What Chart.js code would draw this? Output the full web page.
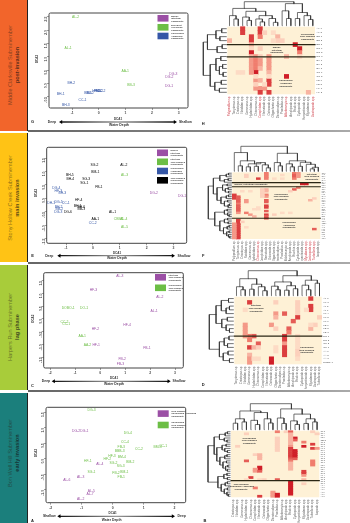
<!DOCTYPE html>
<html><head><meta charset="utf-8">
<script src="https://cdn.jsdelivr.net/npm/chart.js@4"></script>
<style>
html,body{margin:0;padding:0;background:#fff;width:350px;height:523px;overflow:hidden;font-family:"Liberation Sans",sans-serif}
canvas{position:absolute}
.bar{position:absolute;left:0;width:27px;border-right:1px solid #222;box-sizing:content-box}
.bar div{position:absolute;left:13.5px;white-space:nowrap;text-align:center;transform:translate(-50%,-50%) rotate(-90deg);font-size:5.6px;line-height:6.8px;color:rgba(40,30,20,.55)}
.bar b{font-weight:700;color:rgba(20,20,20,.72)}
.sep{position:absolute;left:28px;right:0;height:2px;background:linear-gradient(90deg,#666,#888 60%,#aaa)}
</style></head><body>
<div class="bar" style="top:0;height:131px;background:#F2652B"><div style="top:65px">Middle Clarksville Subminember<br><b>post-invasion</b></div></div>
<div class="bar" style="top:133px;height:129px;background:#FFC315"><div style="top:65px">Stony Hollow Creek Subminember<br><b>main invasion</b></div></div>
<div class="bar" style="top:265px;height:125px;background:#A8CC3A"><div style="top:62px">Harpers Run Subminember<br><b>lag phase</b></div></div>
<div class="bar" style="top:393px;height:130px;background:#1B7F7C"><div style="top:60px">Bon Well Hill Subminember<br><b>early invasion</b></div></div>
<div class="sep" style="top:130px"></div><div class="sep" style="top:262px"></div><div class="sep" style="top:390px"></div>

<canvas id="G"></canvas><canvas id="E"></canvas><canvas id="C"></canvas><canvas id="A"></canvas>
<canvas id="H"></canvas><canvas id="F"></canvas><canvas id="D"></canvas><canvas id="B"></canvas>
<script>
// ---------- ordination data ----------
const xTicksG=[-1,0,1,2,3], yTicksG=[2.5,2,1.5,1,.5,0,-.5];
const gLabels=["AL-2","AL-1","AA-1","BB-3","DG-3","DG-2","DG-1","BH-2","BH-1","BH-3","CC-1","BB-1","BB-2","HF-1","FB-1","FB-2","CC-2"];
const gX=[-.87,-1.15,.99,1.21,2.8,2.65,2.64,-1.03,-1.43,-1.24,-.61,-.4,-.33,-.1,-.05,.02,.1];
const gY=[2.5,1.34,.45,-.05,.36,.24,-.09,0,-.41,-.81,-.62,-.37,-.35,-.3,-.3,-.3,-.3];
const gGroup=[1,1,1,1,0,0,0,2,2,2,2,2,2,2,2,2,2];

const xTicksE=[-1,0,1,2,3], yTicksE=[1.5,1,.5,0,-.5,-1,-1.5];
const eLabels=["SG-2","AL-2","BM-1","AL-3","BH-5","BH-4","SG-3","SG-1","FB-1","DG-4","HF-3","BH-3","DG-2","DG-1","DH-1","DG-5","CC-1","HF-4","BH-2","BH-1","BB-2","DG-3","DG-6","BH-6","BB-3","AL-1","AA-1","CC-2","CBB-1","AL-4","AL-5"];
const eX=[.06,1.15,.09,1.18,-.86,-.84,-.25,-.32,.22,-1.36,-1.29,-1.14,2.27,3.32,-1.55,-1.28,-1.01,-.53,-1.28,-.57,-1.25,-1.29,-.93,-.43,-.43,.73,.09,-.01,.96,1.15,1.18];
const eY=[1.25,1.25,.99,.85,.87,.73,.73,.57,.43,.4,.27,.2,.2,.07,-.16,-.14,-.16,-.07,-.34,-.27,-.4,-.52,-.52,-.34,-.39,-.52,-.77,-.91,-.77,-.77,-1.07];
const eGroup=[3,3,3,1,3,3,3,3,3,2,2,2,0,0,2,2,2,3,2,3,2,2,3,3,3,3,3,2,1,1,1];

const xTicksC=[-2,-1,0,1,2,3], yTicksC=[1.5,1,.5,0,-.5,-1,-1.5];
const cLabels=["AL-3","HF-3","AL-2","AL-1","HF-4","HF-2","HF-1","FB-1","FB-2","FB-3","DOBO-1","DO-1","CC-2","CC-1","AA-1","AA-2"];
const cX=[.79,-.27,2.39,2.16,1.08,-.19,-.16,1.87,.88,.81,-1.28,-.64,-1.43,-1.36,-.72,-.51];
const cY=[1.68,1.14,.86,.32,-.26,-.38,-1.03,-1.16,-1.58,-1.79,.43,.43,-.14,-.22,-.67,-1.01];
const cGroup=[0,0,0,0,0,0,0,0,0,0,1,1,1,1,1,1];

const xTicksA=[-2,-1,0,1,2], yTicksA=[1.5,1,.5,0,-.5,-1];
const aLabels=["DG-3","DG-2","DG-1","DG-4","CC-4","FB-3","BBB-3","CC-2","BM-3","CC-1","HF-3","BM-4","HF-2","BM-2","HF-1","SG-2","SG-3","AL-4","SG-1","FB-2","BM-1","FB-1","AL-3","AL-6","AL-5","AL-7","AL-2"];
const aX=[-.68,-1.18,-.91,.49,.4,.28,.23,.85,1.45,1.63,-.02,.3,-.17,.57,-.8,.03,.26,-.41,-.68,.11,.38,.28,-1.03,-1.48,-.69,-.73,-1.03];
const aY=[1.57,.9,.9,.83,.53,.37,.25,.3,.37,.41,.09,.06,-.02,-.09,-.08,-.14,-.23,-.18,-.42,-.45,-.42,-.59,-.58,-.69,-1.05,-1.14,-1.28];
const aGroup=[1,0,0,1,1,1,1,1,1,1,1,1,1,1,1,1,1,0,1,1,1,1,0,0,0,0,0];

// ---------- heat-map data: [column,row,intensity] ----------
const hCells=[[3,0,8],[3,1,8],[7,0,8],[7,1,8],[7,2,6],[8,1,3],[10,1,2],[11,2,4],[12,3,3],[11,3,3],[10,3,2],[0,3,4],[5,2,8],[5,3,8],[5,4,4],[15,4,9],[16,5,9],[16,6,6],[5,5,2],[5,6,9],[7,5,3],[13,7,4],
[5,7,4],[6,7,5],[7,7,3],[5,8,5],[6,8,6],[7,8,5],[5,9,5],[6,9,6],[7,9,5],[5,10,5],[6,10,6],[7,10,4],[6,11,9],[5,11,5],[9,7,5],[9,8,5],[9,9,5],[9,10,5],[9,11,4],[13,12,9],[6,13,5],[7,13,4],[9,13,8],[9,14,8],[6,15,5],[7,15,5],[8,15,5],[7,16,8],[9,16,8],[18,16,4],[2,11,2],[3,11,2],[16,7,2],[6,12,2],[6,14,3],[8,14,2],[9,12,2]];
const fCells=[[3,1,3],[3,2,3],[8,0,6],[8,1,6],[8,2,6],[8,3,6],[6,3,8],[15,0,6],[15,1,7],[15,2,7],[15,3,6],[16,0,5],[16,1,5],[16,2,5],[17,6,9],[18,6,9],[0,12,8],[0,13,8],[0,14,8],[1,13,7],[1,14,7],[1,15,7],[1,16,7],[1,17,6],[1,18,7],[1,19,7],[1,20,7],[1,21,7],[1,22,5],
[1,26,8],[1,27,8],[1,28,8],[1,29,8],[1,30,8],[1,31,8],[1,32,8],[1,33,8],[1,34,8],[1,35,8],[1,36,8],[0,28,5],[0,29,5],[0,30,5],[0,31,5],[0,32,5],[0,33,5],[0,34,5],[0,35,5],[0,36,5],[2,27,3],
[8,9,4],[8,10,4],[8,12,6],[8,13,5],[8,15,7],[8,16,7],[8,18,8],[8,19,8],[8,21,7],[8,23,8],[8,24,7],[8,25,8],[3,15,5],[3,16,5],[3,22,6],[4,23,5],[5,24,4],[15,9,7],[16,8,6],[14,10,3],[19,15,4],[20,14,3],[20,31,7],[7,9,3],[7,10,3],[7,11,3],[7,12,3],[7,13,3],[10,23,3],[6,19,2],[6,20,2],[5,20,2],[10,3,2],[12,3,2],[12,1,2],[4,10,2],[2,10,2],[12,22,2],[14,22,2],[3,30,2]];
const dCells=[[3,1,8],[9,1,3],[17,0,8],[17,2,8],[17,3,8],[16,3,2],[2,3,2],[14,1,3],[14,2,3],[14,3,3],[14,4,3],[9,4,5],[11,4,7],[14,5,8],[13,6,7],[19,5,3],[9,5,4],[2,7,5],[2,8,5],[2,9,5],[8,7,5],[9,8,3],[12,8,7],[12,9,6],[17,8,4],[18,7,3],[17,7,2],[4,10,7],[3,10,6],[3,11,6],[2,10,5],[11,10,8],[11,11,8],[11,12,5],[11,13,8],[11,14,8],[11,15,8],[5,12,7],[3,13,8],[4,13,4],[5,13,3],[8,16,9],[8,17,9],[3,15,4],[3,16,5],[3,17,5],[14,10,2],[14,11,2],[14,12,2],[14,13,2],[14,14,3],[14,15,3],[14,16,2],[4,16,2],[5,16,2],[9,13,2],[9,14,2]];
const bCells=[[3,1,3],[10,0,6],[10,3,3],[10,4,3],[10,5,3],[10,6,3],[10,7,3],[10,8,3],[10,9,3],[12,0,3],[13,0,7],[14,3,9],[14,4,7],[16,5,6],[16,7,9],[18,6,8],[18,8,8],[19,8,5],[19,1,3],[18,0,3],[13,1,4],[13,2,4],[13,3,4],[13,4,4],[13,5,4],[13,6,4],[13,7,5],[13,8,8],[13,9,8],[13,10,8],[13,11,8],[13,12,8],[13,13,7],[13,14,6],[13,15,4],[13,16,4],[13,17,4],[13,18,4],[14,9,9],[14,10,9],[14,11,9],[14,12,9],[14,13,7],[1,7,3],[3,14,7],[5,11,3],[6,11,4],[6,12,4],[6,13,4],[6,17,9],[6,18,9],[5,18,5],[5,19,5],[6,19,7],[16,19,8],[16,20,8],[18,14,6],[18,15,6],[18,16,6],[4,22,8],[10,23,7],[7,23,3],[13,24,9],[13,25,9],[13,26,9],[13,27,9],[13,28,9],[13,29,9],[13,30,9],[5,27,6],[6,31,8],[9,29,5],[9,30,5],[9,31,5],[10,30,9],[10,31,9],[16,25,3],[16,23,4],[16,21,5],[3,23,2],[6,23,2]];

const hRows=["AL-1","AL-2","BB-1","BB-2","BB-3","DG-1","DG-2","DG-3","BH-1","BH-2","BH-3","CC-1","CC-2","FB-1","FB-2","HF-1","HF-2"];
const fRows=["SG-2","AL-2","BM-1","AL-3","BH-5","BH-4","DG-1","DG-2","SG-3","SG-1","FB-1","DG-4","HF-3","BH-3","BH-1","DH-1","DG-5","CC-1","HF-4","BH-2","BB-2","DG-3","DG-6","BH-6","BB-3","AL-1","AA-1","CC-2","CBB-1","AL-4","AL-5","HF-1","HF-2","BB-1","FB-2","AA-2","CC-3"];
const dRows=["AL-3","HF-3","AL-2","AL-1","HF-4","HF-2","HF-1","FB-1","FB-2","FB-3","DO-1","DO-2","CC-2","CC-1","AA-1","AA-2","AA-3","DOBO-1"];
const bRows=["DG-3","DG-4","CC-4","FB-3","BBB-3","CC-2","BM-3","CC-1","HF-3","BM-4","HF-2","BM-2","HF-1","SG-2","SG-3","SG-1","FB-2","BM-1","FB-1","SG-4","BM-5","HF-4","DG-5","CC-3","DG-2","DG-1","AL-4","AL-3","AL-6","AL-5","AL-7","AL-2"];
const taxa=["Polypedilum sp.","Tanytarsus sp.","Cricotopus sp.","Naididae spp.","Gammarus sp.","Hydrobiidae spp.","Chironomus sp.","Corophiidae spp.","Nematoda spp.","Ostracoda spp.","Oligochaeta spp.","Dicrotendipes sp.","Procladius sp.","Ablabesmyia sp.","Amphipoda spp.","Bivalvia spp.","Cyclopoida spp.","Harpacticoida spp.","Mysidacea spp.","Gastropoda spp.","Turbellaria spp.","Isopoda spp."];
const hRed=[0,7,13,19], fRed=[6,18,19,20], dRed=[], bRed=[];

// dendrograms: [height,left,right], leaves are positions
const hTop=[1,[.72,[.42,0,[.28,1,2]],[.6,[.36,3,[.22,4,5]],[.42,[.28,6,[.16,7,8]],[.3,9,[.14,10,11]]]]],[.92,[.62,12,[.3,13,14]],[.55,[.3,15,16],[.42,17,[.26,18,19]]]]];
const hLeft=[1,[.82,[.45,[.2,0,1],[.28,2,3]],[.4,[.18,4,5],6]],[.7,[.45,[.24,7,8],[.3,[.16,9,10],[.14,11,12]]],[.5,[.22,13,14],[.3,15,16]]]];
const fTop=[1,[.75,0,[.42,[.22,1,2],[.3,[.18,3,4],[.35,[.2,5,6],[.26,7,[.14,8,9]]]]]],[.72,[.35,10,[.22,11,12]],[.42,[.3,13,[.18,14,15]],[.36,[.2,16,17],[.28,18,[.16,[.1,19,20],21]]]]]];
const fLeft=[1,[.78,[.5,[.22,[.12,0,1],2],[.3,[.14,3,4],5]],[.62,[.38,[.18,6,7],[.26,[.14,8,9],[.12,10,11]]],[.45,[.22,[.12,12,13],14],[.3,[.16,15,16],[.14,[.08,17,18],19]]]]],[.72,[.3,[.18,20,21],[.16,22,[.1,23,24]]],[.5,[.3,[.16,25,26],[.14,27,28]],[.34,[.18,[.1,29,30],31],[.2,[.1,32,33],[.12,34,[.07,35,36]]]]]]];
const dTop=[1,[.68,[.36,0,[.24,1,2]],[.46,[.26,3,4],[.36,5,[.2,6,7]]]],[.8,[.55,[.38,8,[.24,9,10]],[.4,[.22,11,12],[.28,13,14]]],[.62,[.42,15,[.24,16,17]],[.5,18,19]]]];
const dLeft=[1,[.72,[.5,[.2,0,1],[.3,[.16,2,3],4]],[.48,[.25,5,6],[.3,7,[.16,8,9]]]],[.58,[.38,[.18,10,11],[.24,12,13]],[.42,[.22,14,15],[.16,16,17]]]];
const bTop=[1,[.72,[.42,[.25,0,1],[.3,2,3]],[.66,[.36,4,[.2,5,6]],[.42,7,[.26,8,9]]]],[.8,[.45,10,[.24,11,12]],[.6,[.34,13,[.2,14,15]],[.42,[.24,16,17],[.3,18,19]]]]];
const bLeft=[1,[.72,[.48,[.22,[.12,0,1],2],[.26,3,[.14,4,5]]],[.6,[.36,[.18,6,7],[.24,8,[.12,9,10]]],[.46,[.24,[.14,11,12],13],[.32,[.16,14,15],[.2,[.1,16,17],[.12,18,19]]]]]],[.55,[.28,[.14,20,21],[.12,22,23]],[.4,[.22,[.12,24,25],26],[.26,[.12,27,28],[.14,29,[.08,30,31]]]]]];

// ---------- helpers ----------
const FONT='"Liberation Sans",sans-serif';
const communityColors=['#9B4FA5','#6CBE45','#3557A7','#000000'];
const setBox=(id,l,t,w,h)=>{const c=document.getElementById(id);c.style.left=l+'px';c.style.top=t+'px';c.style.width=w+'px';c.style.height=h+'px';c.width=w;c.height=h;return c};

const annotate={id:'annotate',afterDraw(chart,a,o){const g=chart.ctx;g.save();
  (o.draw||(()=>{}))(g,chart);g.restore();}};
function txt(g,s,x,y,size,color,opt={}){g.save();g.translate(x,y);if(opt.rot)g.rotate(opt.rot);g.font=(opt.bold?'700 ':'')+size+'px '+FONT;g.fillStyle=color;g.textAlign=opt.align||'center';g.textBaseline='middle';g.fillText(s,0,0);g.restore();}
function arrow(g,x0,x1,y){const gr=g.createLinearGradient(x0,0,x1,0);gr.addColorStop(0,'#111');gr.addColorStop(.5,'#999');gr.addColorStop(1,'#111');g.strokeStyle=gr;g.lineWidth=1.3;g.beginPath();g.moveTo(x0+2,y);g.lineTo(x1-2,y);g.stroke();g.fillStyle='#000';
  [[x0,1],[x1,-1]].forEach(([x,d])=>{g.beginPath();g.moveTo(x,y);g.lineTo(x+3.2*d,y-2);g.lineTo(x+3.2*d,y+2);g.closePath();g.fill();});}

function scatter(id,p){
  const L=28,W=172,T=p.top,H=p.height;
  setBox(id,L,T,W,H);
  const datasets=[0,1,2,3].map(k=>{const idx=p.labels.map((_,i)=>i).filter(i=>p.group[i]===k);
    return {label:'c'+k,labels:idx.map(i=>p.labels[i]),color:communityColors[k],data:idx.map(i=>({x:p.xs[i],y:p.ys[i]})),pointRadius:0,showLine:false};});
  const axisW=8,axisH=8;
  new Chart(document.getElementById(id),{type:'scatter',data:{datasets},plugins:[annotate],options:{
    responsive:false,animation:false,events:[],
    layout:{padding:{left:p.frame[0]-L-axisW,right:L+W-p.frame[1],top:p.frame[2]-T,bottom:T+H-p.frame[3]-axisH}},
    scales:{
      x:{type:'linear',min:p.xr[0],max:p.xr[1],afterFit:s=>{s.height=axisH},afterBuildTicks:s=>{s.ticks=p.xTicks.map(v=>({value:v}))},grid:{drawOnChartArea:false,tickLength:2,color:'#444',lineWidth:.5},border:{display:false},ticks:{font:{size:3.4,family:FONT,weight:'700'},color:'#444',padding:1,maxRotation:0,autoSkip:false,callback:v=>String(v)}},
      y:{type:'linear',min:p.yr[0],max:p.yr[1],afterFit:s=>{s.width=axisW},afterBuildTicks:s=>{s.ticks=p.yTicks.map(v=>({value:v}))},grid:{drawOnChartArea:false,tickLength:2,color:'#444',lineWidth:.5},border:{display:false},ticks:{font:{size:3.4,family:FONT,weight:'700'},color:'#444',padding:1,minRotation:90,maxRotation:90,autoSkip:false,callback:v=>Number(v).toFixed(1)}}
    },
    plugins:{legend:{display:false},tooltip:{enabled:false},annotate:{draw(g,chart){
      const a=chart.chartArea;
      g.strokeStyle='#444';g.lineWidth=1;g.beginPath();g.roundRect(a.left,a.top,a.width,a.height,1.5);g.stroke();
      chart.data.datasets.forEach((d,i)=>{chart.getDatasetMeta(i).data.forEach((el,j)=>txt(g,d.labels[j],el.x,el.y,3.4,d.color));});
      p.legend.forEach(it=>{g.fillStyle=it.c;g.fillRect(it.x-L,it.y-T,11,6.6);
        it.t.forEach((s,i)=>txt(g,s,it.x-L+13.5,it.y-T+1+i*2.5,2.3,'#444',{align:'left',bold:true}));});
      txt(g,'DCA2',p.dca2[0]-L,p.dca2[1]-T,3,'#333',{rot:-Math.PI/2,bold:true});
      txt(g,'DCA1',p.dca1[0]-L,p.dca1[1]-T,3,'#333',{bold:true});
      txt(g,'Water Depth',p.wd[0]-L,p.wd[1]-T,3.4,'#333',{bold:true});
      txt(g,p.ends[0],p.endX[0]-L,p.arrow[2]-T,3.4,'#333',{bold:true});
      txt(g,p.ends[1],p.endX[1]-L,p.arrow[2]-T,3.4,'#333',{bold:true});
      arrow(g,p.arrow[0]-L,p.arrow[1]-L,p.arrow[2]-T);
      txt(g,id,p.letter[0]-L,p.letter[1]-T,4,'#222',{bold:true});
    }}}
  }});
}

function heat(id,p){
  const L=195,W=155,T=p.top,H=p.height;
  setBox(id,L,T,W,H);
  const cw=(p.grid[1]-p.grid[0])/p.nc, rh=(p.grid[3]-p.grid[2])/p.nr;
  const segs={top:[],left:[]};
  const gapY=1/rh, gapX=1/cw;
  function walk(n,out,map){ if(typeof n==='number')return {p:n+.5,h:0};
    const [h,a,b]=n,A=walk(a,out,map),B=walk(b,out,map);
    [[A.p,A.h],[A.p,h],[B.p,h],[B.p,B.h]].forEach(q=>out.push(map(q[0],q[1])));out.push({x:NaN,y:NaN});
    return {p:(A.p+B.p)/2,h};}
  walk(p.treeTop,segs.top,(q,h)=>({x:q,y:-(gapY+h*p.topPx/rh)}));
  walk(p.treeLeft,segs.left,(q,h)=>({x:-(gapX+h*p.leftPx/cw),y:q}));
  const ramp=v=>{const t=v/9;const s=[[254,240,214],[252,208,188],[240,125,110],[208,30,40]];const f=t*3,i=Math.min(2,Math.floor(f)),u=f-i;const c=s[i].map((a,k)=>Math.round(a+(s[i+1][k]-a)*u));return `rgb(${c})`};
  const lines=p.rules.flatMap(r=>[{x:0,y:r},{x:p.nc,y:r},{x:NaN,y:NaN}]);
  const line=(data,color,w)=>({type:'scatter',data,showLine:true,spanGaps:false,pointRadius:0,borderColor:color,borderWidth:w,fill:false,borderCapStyle:'square'});
  new Chart(document.getElementById(id),{type:'bar',data:{datasets:[
    {type:'bar',data:p.cells.map(([c,r,v])=>({x:c+.5,y:[r,r+1],v})),backgroundColor:ctx=>ramp(ctx.raw?ctx.raw.v:0),barPercentage:1,categoryPercentage:1,borderWidth:0,order:3},
    {...line(segs.top,'#333',.7),order:2},{...line(segs.left,'#333',.7),order:2},
    {...line(lines,'#2a2614',1.1),order:1}
  ]},plugins:[annotate,{id:'cream',beforeDatasetsDraw(chart){const g=chart.ctx,x=chart.scales.x,y=chart.scales.y;g.fillStyle='#FEF1D6';g.fillRect(x.getPixelForValue(0),y.getPixelForValue(0),x.getPixelForValue(p.nc)-x.getPixelForValue(0),y.getPixelForValue(p.nr)-y.getPixelForValue(0));}}],options:{
    responsive:false,animation:false,events:[],layout:{padding:0},
    scales:{
      x:{type:'linear',display:false,offset:false,min:-(p.grid[0]-L)/cw,max:(L+W-p.grid[0])/cw,grid:{offset:false}},
      y:{type:'linear',display:false,reverse:true,min:-(p.grid[2]-T)/rh,max:(T+H-p.grid[2])/rh}
    },
    plugins:{legend:{display:false},tooltip:{enabled:false},annotate:{draw(g,chart){
      const x=chart.scales.x,y=chart.scales.y;
      p.rows.forEach((s,i)=>txt(g,s,x.getPixelForValue(p.nc)+1.5,y.getPixelForValue(i+.5),Math.min(2.5,rh*.85),'#555',{align:'left'}));
      p.cols.forEach((s,i)=>txt(g,s,x.getPixelForValue(i+.5),y.getPixelForValue(p.nr)+1.5,2.9,p.red.includes(i)?'#D0454F':'#666',{rot:-Math.PI/2,align:'right'}));
      p.notes.forEach(n=>n.t.forEach((s,i)=>txt(g,s,n.x-L,n.y-T+(i-(n.t.length-1)/2)*2.8,2.4,'#333',{bold:true})));
      txt(g,id,p.letter[0]-L,p.letter[1]-T,4,'#222',{bold:true});
    }}}
  }});
}

scatter('G',{top:0,height:130,labels:gLabels,xs:gX,ys:gY,group:gGroup,xTicks:xTicksG,yTicks:yTicksG,
 frame:[49,188,13,108],xr:[-1.87,3.35],yr:[-.92,2.64],
 legend:[{c:communityColors[0],x:157.5,y:15,t:['Marine','Intertidal','Community']},{c:communityColors[1],x:157.5,y:24,t:['Emergent','Old-Marsh','Community']},{c:communityColors[2],x:157.5,y:32.7,t:['Chironomid','Amphipod','Community']}],
 dca2:[37.5,59],dca1:[118,119],wd:[119,124.7],ends:['Deep','Shallow'],endX:[52,185.5],arrow:[59,177,122],letter:[32.5,122]});
scatter('E',{top:133,height:128,labels:eLabels,xs:eX,ys:eY,group:eGroup,xTicks:xTicksE,yTicks:yTicksE,
 frame:[46.7,186.7,147.3,243.3],xr:[-1.72,3.49],yr:[-1.67,1.9],
 legend:[{c:communityColors[0],x:157,y:149.5,t:['Marine','Intertidal','Community']},{c:communityColors[1],x:157,y:158.5,t:['Intertidal','Thin Rimmed','Community']},{c:communityColors[2],x:157,y:167.7,t:['Chironomid','Amphipod','Community']},{c:communityColors[3],x:157,y:177,t:['Thin Rimmed','Chironomid','Community']}],
 dca2:[35.7,193],dca1:[117,253.3],wd:[117,258.3],ends:['Deep','Shallow'],endX:[49.3,184],arrow:[57.3,175,255.7],letter:[32.5,256]});
scatter('C',{top:264,height:125,labels:cLabels,xs:cX,ys:cY,group:cGroup,xTicks:xTicksC,yTicks:yTicksC,
 frame:[43.7,183.3,272.7,368],xr:[-2.26,3.33],yr:[-1.93,1.82],
 legend:[{c:communityColors[0],x:155,y:274,t:['Intertidal','Thin Rimmed','Community']},{c:communityColors[1],x:155,y:284.5,t:['Chironomid','Thin Rimmed','Community']}],
 dca2:[32.7,318.7],dca1:[114,378],wd:[114,384],ends:['Deep','Shallow'],endX:[46,179],arrow:[51.7,170.7,381.3],letter:[32.5,386]});
scatter('A',{top:392,height:131,labels:aLabels,xs:aX,ys:aY,group:aGroup,xTicks:xTicksA,yTicks:yTicksA,
 frame:[46,185.7,407.3,502.7],xr:[-2.15,2.36],yr:[-1.41,1.66],
 legend:[{c:communityColors[0],x:157.7,y:410.3,t:['Thin Rimmed','Chironomid-Amphipod','Community']},{c:communityColors[1],x:157.7,y:421.7,t:['Chironomid','Thin Rimmed','Community']}],
 dca2:[35.7,453],dca1:[112.7,512.7],wd:[111.7,520],ends:['Shallow','Deep'],endX:[49.3,181.7],arrow:[57.3,175,516.3],letter:[32.5,521]});

heat('H',{top:0,height:130,cells:hCells,rows:hRows,cols:taxa.slice(0,20),red:hRed,treeTop:hTop,treeLeft:hLeft,nc:20,nr:17,grid:[227.3,315,26.7,94.3],topPx:24,leftPx:23,rules:[4.5,7.6],
 notes:[{x:307.5,y:36.7,t:['Chironomid','Thin Rimmed','Community']},{x:276.7,y:50,t:['Marine','Intertidal','Community']},{x:285.7,y:83.3,t:['Chironomid','Amphipod','Community']}],letter:[203.3,124]});
heat('F',{top:133,height:128,cells:fCells,rows:fRows,cols:taxa,red:fRed,treeTop:fTop,treeLeft:fLeft,nc:22,nr:37,grid:[232.3,320.3,172.3,239],topPx:25,leftPx:23,rules:[5.7,8,25.5],
 notes:[{x:311.7,y:176.7,t:['Intertidal','Thin Rimmed','Community']},{x:251,y:184,t:['Marine, Intertidal Community']},{x:281,y:196.7,t:['Chironomid','Thin Rimmed','Community']},{x:289,y:225,t:['Chironomid','Amphipod','Community']}],letter:[203.3,256]});
heat('D',{top:264,height:125,cells:dCells,rows:dRows,cols:taxa.slice(1,21),red:dRed,treeTop:dTop,treeLeft:dLeft,nc:20,nr:18,grid:[234.3,321.7,296.7,364.3],topPx:25,leftPx:24,rules:[10.5],
 notes:[{x:256,y:308.3,t:['Intertidal','Thin Rimmed','Community']},{x:306.7,y:350,t:['Chironomid','Thin Rimmed','Community']}],letter:[203.3,385]});
heat('B',{top:392,height:131,cells:bCells,rows:bRows,cols:taxa.slice(2,22),red:bRed,treeTop:bTop,treeLeft:bLeft,nc:20,nr:32,grid:[231,319.3,430.7,497.3],topPx:26,leftPx:22,rules:[24],
 notes:[{x:249.3,y:440.7,t:['Chironomid','Thin Rimmed','Community']},{x:241,y:486.7,t:['Thin Rimmed','Chironomid-Amphipod','Community']}],letter:[205,520.7]});
</script>
</body></html>
